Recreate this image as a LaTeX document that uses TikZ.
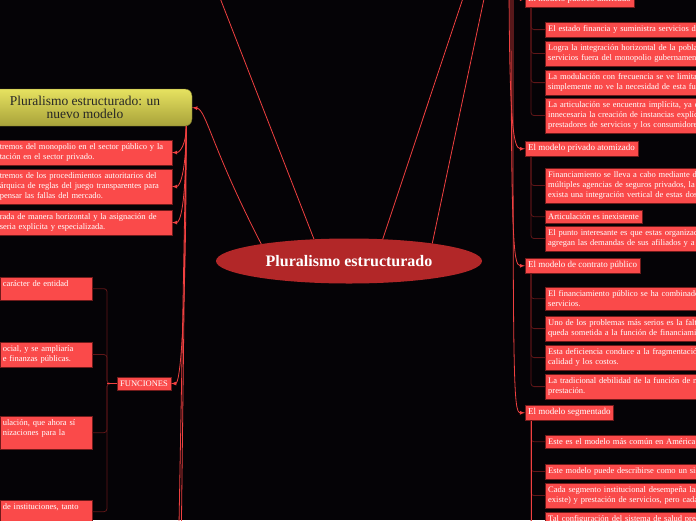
\documentclass[tikz,border=0pt]{standalone}
\usepackage{fontspec}
\setmainfont{Liberation Serif}
\usetikzlibrary{arrows,shapes.geometric,positioning}
\definecolor{bgblack}{RGB}{5,3,6}
\definecolor{boxred}{RGB}{250,74,74}
\definecolor{boxedge}{RGB}{112,26,26}
\definecolor{linkred}{RGB}{240,64,64}
\definecolor{treedark}{RGB}{96,22,24}
\definecolor{hubred}{RGB}{178,39,40}
\definecolor{yeltop}{RGB}{230,226,96}
\definecolor{yelbot}{RGB}{168,162,58}
\tikzset{%
	hub/.style   = {ellipse, fill=hubred, minimum width=266pt, minimum height=45pt, text=white, font=\fontsize{16}{18}\selectfont\bfseries},
	topic/.style = {draw=yelbot!70!black, rounded corners=7pt, top color=yeltop, bottom color=yelbot, minimum width=214pt, minimum height=37pt, inner ysep=2pt, align=center, text=black!85, font=\fontsize{13.5}{13}\selectfont},
	leaf/.style  = {draw=boxedge, fill=boxred, text=white, inner xsep=3pt, inner ysep=3.5pt, align=left, font=\fontsize{8.5}{10}\selectfont},
	head/.style  = {leaf, font=\fontsize{9}{10}\selectfont},
	link/.style  = {draw=linkred, line width=0.8pt, -latex},
	tree/.style  = {draw=treedark, line width=0.8pt, rounded corners=3pt},
}

\begin{document}
\begin{tikzpicture}[x=1pt,y=-1pt]
	\useasboundingbox (0,0) rectangle (696,520);
	\clip (0,0) rectangle (696,520);
	\fill[bgblack] (0,0) rectangle (696,520);
	
	% centre and left branch
	\node[hub] (cen) at (349,261) {Pluralismo estructurado};
	\node[topic] (yel) at (85,107.5) {Pluralismo estructurado: un\\nuevo modelo};
	
	\node[leaf, anchor=north east, text width=169pt] (l1) at (172,140) {tremos del monopolio en el sector público y la\\tación en el sector privado.};
	\node[leaf, anchor=north east, text width=169pt] (l2) at (172,169) {tremos de los procedimientos autoritarios del\\árquica de reglas del juego transparentes para\\pensar las fallas del mercado.};
	\node[leaf, anchor=north east, text width=169pt] (l3) at (172,210) {rada de manera horizontal y la asignación de\\seria explícita y especializada.};
	
	\node[leaf] (fun) at (144,383.5) {FUNCIONES};
	\node[leaf, anchor=north east, text width=86pt] (fa) at (92,277) {carácter de entidad\\\mbox{}};
	\node[leaf, anchor=north east, text width=86pt] (fb) at (92,342) {ocial, y se ampliaría\\e finanzas públicas.};
	\node[leaf, anchor=north east, text width=86pt] (fc) at (92,416) {ulación, que ahora sí\\nizaciones para la\\\mbox{}};
	\node[leaf, anchor=north east, text width=86pt] (fd) at (92,500) {de instituciones, tanto\\\mbox{}};
	
	% right branch
	\node[head, anchor=south west] (m1) at (525,7) {El modelo público unificado};
	\node[leaf, anchor=north west, text width=250pt] (c11) at (545,22) {El estado financia y suministra servicios de};
	\node[leaf, anchor=north west, text width=250pt] (c12) at (545,41) {Logra la integración horizontal de la población\\servicios fuera del monopolio gubernamental};
	\node[leaf, anchor=north west, text width=250pt] (c13) at (545,70) {La modulación con frecuencia se ve limitada\\simplemente no ve la necesidad de esta función};
	\node[leaf, anchor=north west, text width=250pt] (c14) at (545,98) {La articulación se encuentra implícita, ya que\\innecesaria la creación de instancias explícitas\\prestadores de servicios y los consumidores};
	
	\node[head, anchor=north west] (m2) at (525,141) {El modelo privado atomizado};
	\node[leaf, anchor=north west, text width=250pt] (c21) at (545,168) {Financiamiento se lleva a cabo mediante de\\múltiples agencias de seguros privados, la\\exista una integración vertical de estas dos};
	\node[leaf, anchor=north west] (c22) at (545,210) {Articulación es inexistente};
	\node[leaf, anchor=north west, text width=250pt] (c23) at (545,226) {El punto interesante es que estas organizaciones\\agregan las demandas de sus afiliados y a};
	
	\node[head, anchor=north west] (m3) at (525,258) {El modelo de contrato público};
	\node[leaf, anchor=north west, text width=250pt] (c31) at (545,287) {El financiamiento público se ha combinado\\servicios.};
	\node[leaf, anchor=north west, text width=250pt] (c32) at (545,316) {Uno de los problemas más serios es la falta\\queda sometida a la función de financiamiento};
	\node[leaf, anchor=north west, text width=250pt] (c33) at (545,345) {Esta deficiencia conduce a la fragmentación\\calidad y los costos.};
	\node[leaf, anchor=north west, text width=250pt] (c34) at (545,374) {La tradicional debilidad de la función de modulación\\prestación.};
	
	\node[head, anchor=north west] (m4) at (525,405) {El modelo segmentado};
	\node[leaf, anchor=north west, text width=250pt] (c41) at (545,435) {Este es el modelo más común en América};
	\node[leaf, anchor=north west, text width=250pt] (c42) at (545,464) {Este modelo puede describirse como un sistema};
	\node[leaf, anchor=north west, text width=250pt] (c43) at (545,483) {Cada segmento institucional desempeña las\\existe) y prestación de servicios, pero cada};
	\node[leaf, anchor=north west, text width=250pt] (c44) at (545,512) {Tal configuración del sistema de salud presenta\\\mbox{}};
	
	% links from the centre
	\coordinate (t1) at (213,-20);
	\coordinate (t2) at (469,-20);
	\coordinate (t3) at (488,-20);
	\draw[link] (cen.148) -- (t1);
	\draw[link] (cen.33.5) -- (t2);
	\draw[link] (cen.12) -- (t3);
	\draw[link] (cen.169) .. controls +(-50,-97) and +(14,2) .. (yel.east);
	
	% links from the yellow topic
	\coordinate (ys) at ([xshift=-6pt]yel.south east);
	\coordinate (o1) at (181,560);
	\coordinate (o2) at (178,580);
	\draw[link] (ys) .. controls +(0,18) and +(8,0) .. (l1.east);
	\draw[link] (ys) .. controls +(0,45) and +(8,0) .. (l2.east);
	\draw[link] (ys) .. controls +(0,80) and +(8,0) .. (l3.east);
	\draw[link] (ys) .. controls +(0,220) and +(8,0) .. (fun.east);
	\draw[link] (ys) -- (o1);
	\draw[link] (ys) -- (o2);
	
	\coordinate (jx) at (107,0);
	\foreach \c in {fa,fb,fc,fd} \draw[tree] (fun.west) -- (fun.west -| jx) |- (\c.east);
	\draw[linkred, line width=0.8pt] (fun.west) -- (fun.west -| jx);
	
	% links into the right column
	\coordinate (r0) at (505,-40);
	\coordinate (r1) at (509,-40);
	\coordinate (r2) at (511,-40);
	\coordinate (r3) at (513,-40);
	\draw[link] (r0) .. controls +(0,30) and +(-10,0) .. (m1.west);
	\draw[link] (r1) .. controls +(0,160) and +(-12,0) .. (m2.west);
	\draw[link] (r2) .. controls +(0,280) and +(-12,0) .. (m3.west);
	\draw[link] (r3) .. controls +(0,420) and +(-12,0) .. (m4.west);
	
	\coordinate (jr) at (531,0);
	\coordinate (m4end) at (531,560);
	\foreach \c in {c11,c12,c13,c14} \draw[tree] (m1.south -| jr) |- (\c.west);
	\foreach \c in {c21,c22,c23} \draw[tree] (m2.south -| jr) |- (\c.west);
	\foreach \c in {c31,c32,c33,c34} \draw[tree] (m3.south -| jr) |- (\c.west);
	\foreach \c in {c41,c42,c43,c44} \draw[tree] (m4.south -| jr) |- (\c.west);
	\draw[linkred, line width=0.8pt] (m4.south -| jr) -- (m4end);
\end{tikzpicture}
\end{document}
